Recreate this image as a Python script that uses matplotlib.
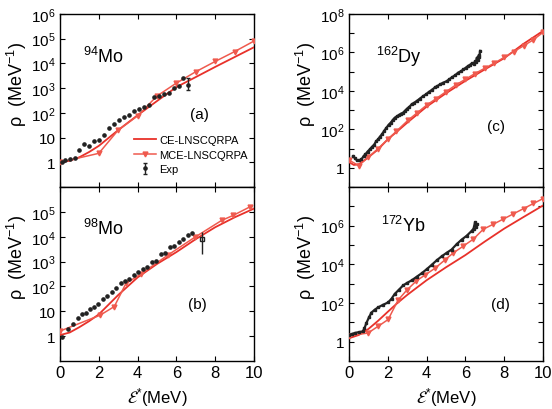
import numpy as np
import matplotlib
matplotlib.use('Agg')
import matplotlib.pyplot as plt
from matplotlib.ticker import NullLocator

plt.rcParams['font.family'] = ['Liberation Sans', 'DejaVu Sans']
plt.rcParams['mathtext.fontset'] = 'stix'
plt.rcParams['mathtext.default'] = 'regular'

CE_COL = '#e8312a'
MCE_COL = '#ef5a4e'

# ---- (a) 94Mo ----
a_ce_e = [0, 0.5, 1, 1.5, 2, 3, 4, 5, 6, 7, 8, 9, 10]
a_ce = [1.0, 1.15, 1.6, 2.6, 4.6, 20, 80, 300, 1100, 2800, 7200, 1.8e4, 4.5e4]
a_mce_e = [0, 2, 3, 4, 5, 6, 7, 8, 9, 10]
a_mce = [1.0, 2.3, 20, 75, 480, 1600, 4600, 1.2e4, 3e4, 8e4]
a_exp_e = [0.09, 0.26, 0.52, 0.77, 1.0, 1.25, 1.51, 1.77, 2.03, 2.29, 2.54, 2.80, 3.06,
           3.32, 3.57, 3.83, 4.09, 4.35, 4.60, 4.86, 5.12, 5.38, 5.64, 5.89, 6.15, 6.36]
a_exp = [1.0, 1.2, 1.3, 1.5, 3.1, 5.4, 4.6, 7.4, 8.1, 12.6, 24, 35, 53,
         66, 83, 124, 145, 180, 212, 440, 480, 600, 660, 1000, 1230, 2450]
a_err_e, a_err, a_err_lo, a_err_hi = 6.6, 1400, 810, 2450

# ---- (b) 98Mo ----
b_ce_e = [0, 0.5, 1, 1.5, 2, 3, 4, 5, 6, 7, 8, 9, 10]
b_ce = [1.1, 1.4, 2.3, 4.0, 7.5, 45, 230, 800, 2400, 8000, 2.4e4, 6e4, 1.35e5]
b_mce_e = [0, 2.06, 2.8, 3.4, 4.17, 5.58, 6.96, 8.33, 8.93, 9.8]
b_mce = [1.6, 6.9, 15.5, 132, 316, 1860, 9600, 4.5e4, 7.2e4, 1.6e5]
b_exp_e = [0.12, 0.43, 0.69, 0.91, 1.12, 1.34, 1.55, 1.77, 1.98, 2.2, 2.44, 2.66, 2.89, 3.13, 3.35,
           3.57, 3.81, 4.04, 4.26, 4.5, 4.72, 4.95, 5.21, 5.41, 5.67, 5.89, 6.13, 6.36, 6.58, 6.82]
b_exp = [0.95, 1.9, 3, 5.6, 7.6, 8.9, 12, 15.5, 19, 31, 42, 60, 85, 132, 170,
         200, 295, 390, 500, 620, 930, 1090, 2040, 2240, 3800, 4400, 6300, 8100, 1.2e4, 1.4e4]
b_err_e, b_err, b_err_lo, b_err_hi = 7.3, 8000, 2000, 1.6e4

# ---- (c) 162Dy ----
c_ce_e = [0, 0.25, 0.5, 1, 1.5, 2, 2.5, 3, 4, 5, 6, 7, 8, 9, 10]
c_ce = [2.0, 1.4, 1.5, 3.5, 9, 30, 80, 220, 1500, 7500, 3.3e4, 1.3e5, 5e5, 2.8e6, 1.3e7]
c_mce_e = [0, 0.5, 1.0, 1.5, 2.0, 2.45, 3.05, 3.5, 4.0, 4.5, 5.0, 5.5, 6.0, 6.5, 7.0,
           7.5, 8.0, 8.5, 9.0, 9.5, 10]
c_mce = [2.5, 1.3, 3.5, 10, 30, 80, 300, 700, 1800, 4000, 9000, 2e4, 4e4, 8e4, 1.5e5,
         2.8e5, 5.5e5, 1.1e6, 2.2e6, 4.5e6, 1.1e7]
c_exp_e = [0.21, 0.3, 0.4, 0.52, 0.64, 0.75, 0.85, 0.96, 1.07, 1.18, 1.3, 1.4, 1.5, 1.6, 1.7,
           1.82, 1.93, 2.04, 2.15, 2.25, 2.36, 2.47, 2.57, 2.68, 2.79, 2.9, 3.0, 3.12, 3.23,
           3.36, 3.5, 3.66, 3.83, 3.96, 4.1, 4.26, 4.43, 4.56, 4.7, 4.87, 5.04, 5.17, 5.3,
           5.47, 5.64, 5.77, 5.9, 6.02, 6.15, 6.25, 6.35, 6.43, 6.5, 6.55, 6.59, 6.64, 6.68,
           6.72, 6.76]
c_exp = [4, 3.2, 2.5, 2.4, 2.7, 4, 5, 7, 9, 12, 16, 24, 30, 42, 55,
         85, 120, 170, 220, 300, 400, 470, 550, 650, 730, 950, 1200, 1500, 2000,
         2400, 3000, 4000, 5400, 6500, 8500, 1.1e4, 1.5e4, 1.8e4, 2.2e4, 2.7e4, 3.2e4, 4e4, 5e4,
         6.5e4, 9e4, 1.05e5, 1.3e5, 1.6e5, 2e5, 2.3e5, 2.8e5, 2.6e5, 3.5e5, 3.2e5, 5.4e5, 4.2e5, 7e5,
         6e5, 1.2e6]

# ---- (d) 172Yb ----
d_ce_e = [0, 0.5, 1, 1.5, 2, 2.5, 3, 4, 5, 6, 7, 8, 9, 10]
d_ce = [1.5, 2.2, 4.5, 12, 35, 100, 260, 1500, 7000, 3e4, 1.5e5, 7e5, 2.8e6, 1.1e7]
d_mce_e = [0, 0.98, 1.5, 2.02, 2.53, 2.97, 3.48, 3.91, 4.43, 4.95, 5.38, 5.89, 6.41, 6.93,
           7.45, 7.96, 8.48, 9.0, 9.51, 10.0]
d_mce = [2.0, 2.8, 6.2, 14, 140, 450, 1400, 2750, 6200, 1.7e4, 3.9e4, 8.7e4, 2e5, 6.6e5,
         1.2e6, 2.2e6, 4.1e6, 7.6e6, 1.4e7, 2.5e7]
d_exp_e = [0, 0.15, 0.3, 0.5, 0.72, 0.8, 0.9, 1.03, 1.16, 1.33, 1.5, 1.75, 2.02, 2.2, 2.36,
           2.57, 2.79, 3.0, 3.23, 3.5, 3.74, 4.0, 4.26, 4.52, 4.78, 5.03, 5.29, 5.55, 5.81,
           6.07, 6.33, 6.42, 6.5, 6.55, 6.6]
d_exp = [2.2, 2.5, 2.8, 3.1, 3.4, 5, 9.3, 18, 32, 45, 59, 80, 107, 170, 295,
         480, 810, 1100, 1480, 2300, 3400, 5500, 9300, 1.6e4, 2.6e4, 3.9e4, 5.8e4, 1.1e5, 1.9e5,
         3e5, 5.4e5, 7e5, 1.5e6, 9e5, 1.2e6]

fig = plt.figure(figsize=(5.52, 4.10), dpi=100)
ax_a = fig.add_axes([0.1087, 0.5415, 0.3514, 0.4220])
ax_b = fig.add_axes([0.1087, 0.1171, 0.3514, 0.4244])
ax_c = fig.add_axes([0.6322, 0.5415, 0.3514, 0.4220])
ax_d = fig.add_axes([0.6322, 0.1171, 0.3514, 0.4244])


def lab(n):
    if n == 0:
        return '1'
    if n == 1:
        return '10'
    return r'$10^{%d}$' % n


def setup(ax, top, labeled, bottom_labels):
    ax.set_yscale('log')
    ax.set_xlim(0, 10)
    ax.set_ylim(0.1, 10.0 ** top)
    decs = list(range(0, top + 1))
    ax.set_yticks([10.0 ** n for n in decs])
    ax.set_yticklabels([lab(n) if n in labeled else '' for n in decs])
    ax.yaxis.set_minor_locator(NullLocator())
    ax.set_xticks([0, 2, 4, 6, 8, 10])
    ax.tick_params(direction='in', top=True, right=True, length=3.5, labelsize=11, pad=3)
    ax.tick_params(axis='x', labelsize=12)
    if not bottom_labels:
        ax.set_xticklabels([])
    else:
        ax.set_xlabel(r'$\mathcal{E}^{*}$(MeV)', fontsize=12)
        ax.xaxis.set_label_coords(0.5, -0.14)
    ax.set_ylabel(r'$\rho$  (MeV$^{-1}$)', fontsize=13)
    ax.yaxis.set_label_coords(-0.16, 0.6)
    for s in ax.spines.values():
        s.set_linewidth(1.0)


def curves(ax, ce_e, ce, mce_e, mce):
    ax.plot(ce_e, ce, '-', color=CE_COL, lw=1.3, label='CE-LNSCQRPA', zorder=3)
    ax.plot(mce_e, mce, '-', color=MCE_COL, lw=1.1, marker='v', ms=3.5,
            label='MCE-LNSCQRPA', zorder=3)


# (a)
setup(ax_a, 6, [0, 1, 2, 3, 4, 5, 6], False)
curves(ax_a, a_ce_e, a_ce, a_mce_e, a_mce)
ax_a.plot(a_exp_e, a_exp, 'o', color='#222222', ms=2.3, ls='none', zorder=4)
ax_a.errorbar([a_err_e], [a_err], yerr=[[a_err - a_err_lo], [a_err_hi - a_err]],
              fmt='o', color='#222222', ms=2.3, elinewidth=1.0, capsize=1.5, label='Exp', zorder=4)
ax_a.text(0.12, 0.72, r'$^{94}$Mo', transform=ax_a.transAxes, fontsize=13, va='baseline')
ax_a.text(0.72, 0.42, '(a)', transform=ax_a.transAxes, fontsize=11, ha='center', va='center')
ax_a.legend(loc='upper left', bbox_to_anchor=(0.38, 0.30), frameon=False, fontsize=8,
            handlelength=2.0, handletextpad=0.3, labelspacing=0.4, borderpad=0, borderaxespad=0)

# (b)
setup(ax_b, 6, [0, 1, 2, 3, 4, 5], True)
curves(ax_b, b_ce_e, b_ce, b_mce_e, b_mce)
ax_b.plot(b_exp_e, b_exp, 'o', color='#222222', ms=2.3, ls='none', zorder=4)
ax_b.errorbar([b_err_e], [b_err], yerr=[[b_err - b_err_lo], [b_err_hi - b_err]],
              fmt='s', color='#222222', mfc='none', ms=3, elinewidth=1.0, capsize=0, zorder=4)
ax_b.text(0.12, 0.73, r'$^{98}$Mo', transform=ax_b.transAxes, fontsize=13, va='baseline')
ax_b.text(0.71, 0.33, '(b)', transform=ax_b.transAxes, fontsize=11, ha='center', va='center')

# (c)
setup(ax_c, 8, [0, 2, 4, 6, 8], False)
curves(ax_c, c_ce_e, c_ce, c_mce_e, c_mce)
ax_c.plot(c_exp_e, c_exp, '-', color='#222222', lw=1.6, marker='s', ms=1.5, zorder=4)
ax_c.text(0.14, 0.72, r'$^{162}$Dy', transform=ax_c.transAxes, fontsize=13, va='baseline')
ax_c.text(0.76, 0.35, '(c)', transform=ax_c.transAxes, fontsize=11, ha='center', va='center')

# (d)
setup(ax_d, 8, [0, 2, 4, 6], True)
curves(ax_d, d_ce_e, d_ce, d_mce_e, d_mce)
ax_d.plot(d_exp_e, d_exp, '-', color='#222222', lw=1.6, marker='s', ms=1.5, zorder=4)
ax_d.text(0.165, 0.745, r'$^{172}$Yb', transform=ax_d.transAxes, fontsize=13, va='baseline')
ax_d.text(0.78, 0.33, '(d)', transform=ax_d.transAxes, fontsize=11, ha='center', va='center')

fig.savefig('out.png', dpi=100)
